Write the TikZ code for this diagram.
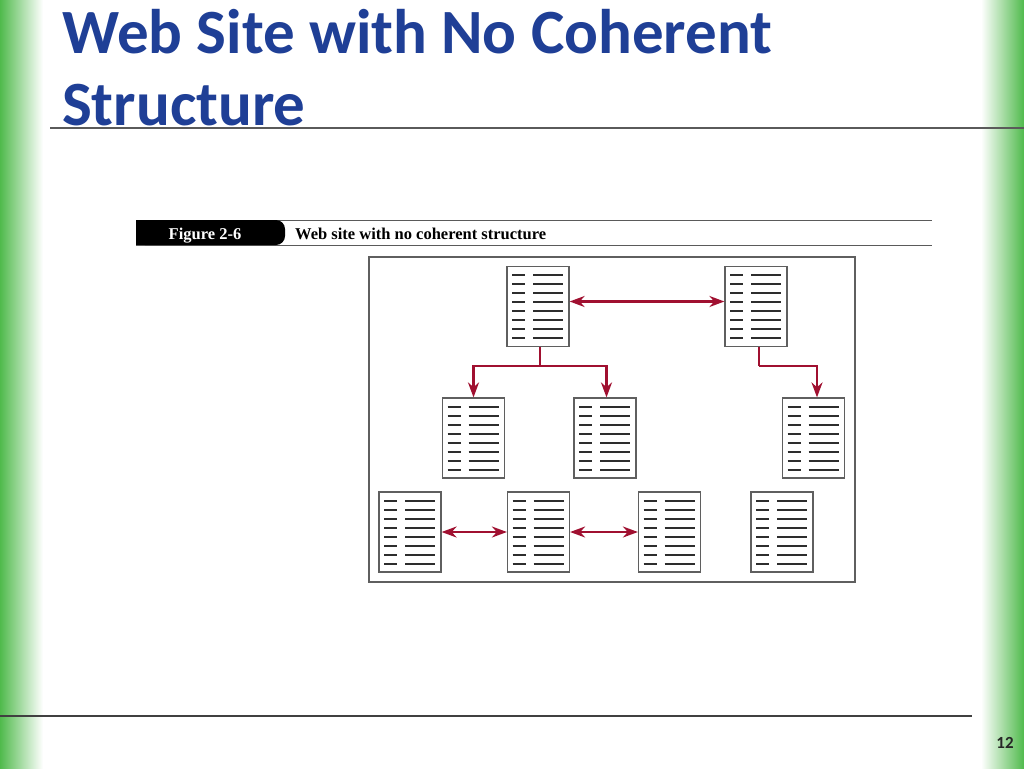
\documentclass[tikz,border=0pt]{standalone}
\usepackage{fontspec}
\setmainfont{Carlito}
\newfontfamily\hdfont{Liberation Serif}
\usetikzlibrary{arrows.meta,calc}
\definecolor{titleblue}{RGB}{31,63,150}
\definecolor{linkred}{RGB}{160,16,48}
\definecolor{pgray}{RGB}{95,95,95}
\definecolor{dashgray}{RGB}{45,45,45}
\definecolor{rulegray}{RGB}{90,90,90}
\definecolor{barGreen}{RGB}{80,186,76}
\begin{document}
\begin{tikzpicture}[x=1pt,y=-1pt,
  page/.style={draw=pgray,line width=1.2,fill=white,minimum width=62,minimum height=80,inner sep=0,
    path picture={\foreach \k in {0,...,7}{
      \draw[line width=2,draw=dashgray]
        ($(path picture bounding box.north west)+(5,8.5+9*\k)$) -- ++(13,0)
        ($(path picture bounding box.north west)+(26,8.5+9*\k)$) -- ++(30,0);}}},
  link/.style={draw=linkred,line width=2.2},
  onehead/.style={-{Stealth[length=15pt,width=11pt]}},
  twohead/.style={{Stealth[length=15pt,width=11pt]}-{Stealth[length=15pt,width=11pt]}},
  rule/.style={draw=rulegray,line width=1.1},
  titletext/.style={anchor=base west,inner sep=0,text=titleblue,font=\fontsize{63}{72}\selectfont\bfseries}
]
\useasboundingbox (0,0) rectangle (1024,768);
\fill[white] (0,0) rectangle (1024,768);
% side bars
\shade[left color=barGreen,right color=white] (0,0) rectangle (43,768);
\shade[left color=white,right color=barGreen] (981,0) rectangle (1024,768);
% title
\node[titletext] (t1) at (62,53) {Web Site with No Coherent};
\node[titletext] (t2) at (62,125) {Structure};
\draw[rule] (50,128) -- (1024,128);
% bottom rule and page number
\draw[rule,draw=black!75] (0,716) -- (972,716);
\node[anchor=base,inner sep=0,font=\fontsize{17}{20}\selectfont\bfseries,text=black!85] (pnum) at (1005,748) {12};
% figure header
\draw[rule,line width=1] (136,220) -- (932,220);
\draw[rule,line width=1] (136,245) -- (932,245);
\fill[black,rounded corners=9pt] (136,220) -- (285,220) -- (285,245) -- (136,245) -- cycle;
\fill[black] (136,220) rectangle (270,245);
\node[anchor=base,inner sep=0,text=white,font=\hdfont\fontsize{16.5}{18}\selectfont\bfseries] (figlbl) at (205,239) {Figure 2-6};
\node[anchor=base west,inner sep=0,font=\hdfont\fontsize{16.5}{18}\selectfont\bfseries] (figcap) at (295,239) {Web site with no coherent structure};
% frame
\draw[draw=pgray,line width=1.2] (369,257) rectangle (855,582);
% pages
\node[page] (A) at (538,306.5) {};
\node[page] (B) at (756,306.5) {};
\node[page] (C) at (473.5,438) {};
\node[page] (D) at (605,438) {};
\node[page] (E) at (813.5,438) {};
\node[page] (F) at (410,532) {};
\node[page] (G) at (538.5,532) {};
\node[page] (H) at (669.5,532) {};
\node[page] (I) at (782,532) {};
% links
\draw[link,twohead] ([yshift=5pt]A.east) -- ([yshift=5pt]B.west);
\draw[link] ([xshift=2pt]A.south) -- ++(0,18.5) coordinate (ja);
\draw[link,onehead] (ja) -| (C.north);
\draw[link,onehead] (ja) -| ([xshift=1.5pt]D.north);
\draw[link] ([xshift=3pt]B.south) -- ++(0,18.5) coordinate (jb);
\draw[link,onehead] (jb) -| ([xshift=3.5pt]E.north);
\draw[link,twohead] (F.east) -- (G.west);
\draw[link,twohead] (G.east) -- (H.west);
\end{tikzpicture}
\end{document}
